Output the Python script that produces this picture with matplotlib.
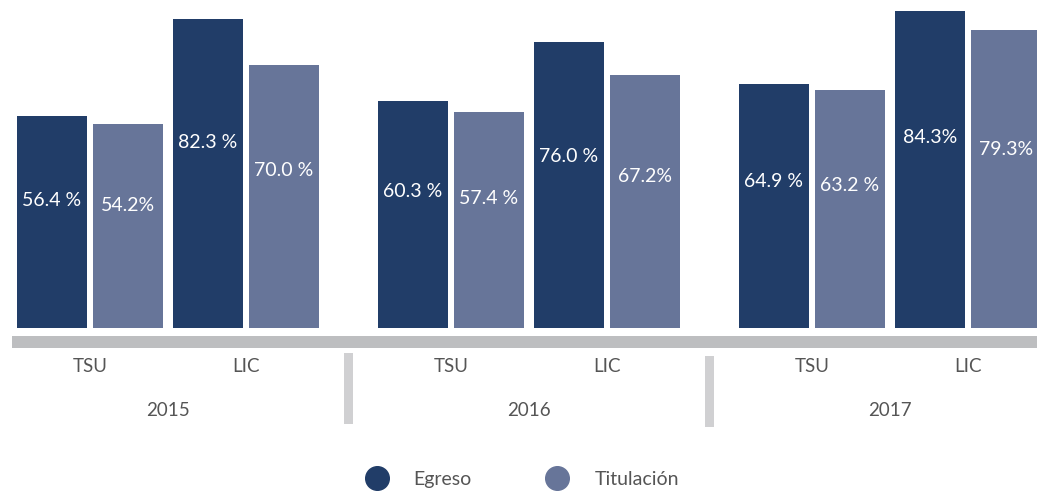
import matplotlib.pyplot as plt
from matplotlib.patches import Rectangle
from matplotlib.lines import Line2D

# datos
years = ['2015', '2016', '2017']
levels = ['TSU', 'LIC']
egreso = [56.4, 82.3, 60.3, 76.0, 64.9, 84.3]
titulacion = [54.2, 70.0, 57.4, 67.2, 63.2, 79.3]
egreso_txt = ['56.4 %', '82.3 %', '60.3 %', '76.0 %', '64.9 %', '84.3%']
titulacion_txt = ['54.2%', '70.0 %', '57.4 %', '67.2%', '63.2 %', '79.3%']

c_egreso = '#213d68'
c_titul = '#677599'
c_gray = '#bdbec0'
c_sep = '#d0d0d2'
c_text = '#555555'

plt.rcParams['font.family'] = ['Lato', 'DejaVu Sans']

W, H = 1037, 494
fig = plt.figure(figsize=(W / 100, H / 100), dpi=100)

# ejes de barras: x en pixeles, base de las barras a 328 px desde arriba
base = 328
ax = fig.add_axes([0, (H - base) / H, 1, base / H])
ax.set_xlim(0, W)
ax.set_ylim(0, base / 3.76)
ax.axis('off')

bw = 70
x0, g_step, p_step, b_step = 17, 361, 156, 76

pair_centers = []
for i, val in enumerate(egreso):
    g, p = divmod(i, 2)
    xe = x0 + g * g_step + p * p_step
    xt = xe + b_step
    ax.bar(xe, val, width=bw, align='edge', color=c_egreso)
    ax.bar(xt, titulacion[i], width=bw, align='edge', color=c_titul)
    ax.text(xe + bw / 2, val * 0.6, egreso_txt[i], color='white',
            ha='center', va='center', fontsize=14)
    ax.text(xt + bw / 2, titulacion[i] * 0.6, titulacion_txt[i], color='white',
            ha='center', va='center', fontsize=14)
    pair_centers.append((xe + xt + bw) / 2)

# parte inferior: banda gris, etiquetas, separadores
ax2 = fig.add_axes([0, 0, 1, (H - base) / H])
ax2.set_xlim(0, W)
ax2.set_ylim(H, base)
ax2.axis('off')
ax2.add_patch(Rectangle((12, 336), W - 12, 12, color=c_gray, lw=0))

group_end = x0 + p_step + b_step + bw
for i, c in enumerate(pair_centers):
    ax2.text(c, 367, levels[i % 2], ha='center', va='center',
             fontsize=13.5, color=c_text)
for g, y in enumerate(years):
    c = (pair_centers[2 * g] + pair_centers[2 * g + 1]) / 2
    ax2.text(c, 410, y, ha='center', va='center', fontsize=13.5, color=c_text)
    if g > 0:
        prev_end = group_end + (g - 1) * g_step
        gap_mid = (prev_end + x0 + g * g_step) / 2
        ax2.add_patch(Rectangle((gap_mid - 4.5, 353 + 3 * (g - 1)), 9, 71,
                                color=c_sep, lw=0))

handles = [Line2D([], [], marker='o', ls='', ms=17, color=c_egreso),
           Line2D([], [], marker='o', ls='', ms=17, color=c_titul)]
fig.legend(handles, ['Egreso', 'Titulación'], loc='center',
           bbox_to_anchor=(518 / W, 1 - 479 / H), ncol=2, frameon=False,
           fontsize=14, handletextpad=0.9, columnspacing=3.4,
           labelcolor=c_text)

fig.savefig('out.png', dpi=100)
